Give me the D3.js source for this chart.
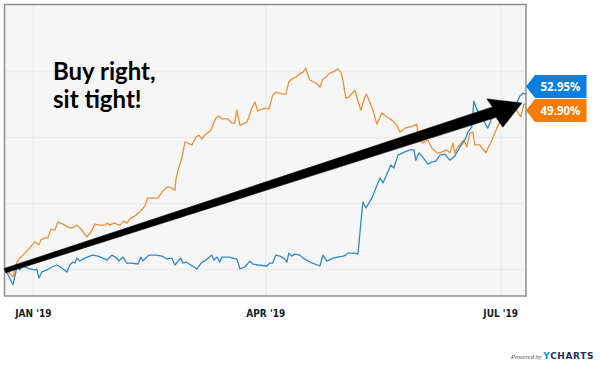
<!DOCTYPE html>
<html><head><meta charset="utf-8">
<script src="https://cdn.jsdelivr.net/npm/d3@7/dist/d3.min.js"></script>
<style>html,body{margin:0;padding:0;background:#fff;}svg{display:block;}</style>
</head><body>
<svg id="chart" width="600" height="372"></svg>
<script>
// ---- data ----
const startDate = "2018-12-21";
const endDate = "2019-07-11";
const baseDate = "2019-01-01";           // day offsets below are counted from this date
const xTickDates = ["2019-01-01", "2019-04-01", "2019-07-01"];
const xTickLabels = ["JAN '19", "APR '19", "JUL '19"];
const yGridValues = [0, 20, 40, 60];     // % return gridlines (unlabelled)

const orangeDays = [-10.8,-7.7,-6.2,-5.0,-3.1,-1.2,0.8,2.3,3.1,4.6,5.8,7.0,8.5,9.7,11.6,13.6,15.1,17.0,19.0,20.9,22.5,24.0,25.9,27.9,28.7,29.8,31.4,32.5,33.7,35.2,36.4,37.6,39.5,41.4,43.4,44.5,46.5,48.4,50.0,51.9,53.1,55.0,55.4,56.2,57.7,58.9,61.6,63.1,64.3,65.5,66.6,68.9,70.9,72.0,73.2,75.5,77.1,78.2,79.0,80.2,82.9,84.8,86.0,87.1,89.9,91.4,92.9,94.1,96.8,98.0,99.1,100.3,101.9,103.8,104.6,105.7,106.1,107.3,109.6,111.2,112.3,113.1,115.0,116.2,118.1,119.3,120.1,121.2,122.4,124.7,127.0,129.0,129.7,131.7,133.2,135.2,137.1,139.0,141.0,142.1,144.1,147.2,148.7,149.5,151.0,153.0,154.5,156.5,157.6,160.3,161.5,162.7,163.4,164.6,166.9,168.1,169.2,170.4,171.2,173.1,175.4,177.8,179.7,182.0,183.6,185.9,187.8,189.0,190.2,191.0];
const orangeValues = [0,-2.4,2.1,3.3,4.8,6.4,8.2,7.3,8.8,9.4,9.4,12.1,11.8,14.2,13.6,12.7,12.4,13.3,11.8,9.7,11.2,13.6,13.3,13.3,13.9,13.3,13.9,13.6,13.3,14.5,13.9,15.2,16.1,17.3,19.1,21.5,21.5,21.5,23.3,24.8,24.8,23.9,27.0,30.0,33.6,38.5,37.6,40.0,40.6,39.4,40.6,42.1,45.8,46.4,45.5,45.5,44.2,44.2,48.2,43.6,44.5,48.8,50.6,47.9,48.8,48.5,52.7,53.6,53.0,53.0,56.7,57.6,58.2,59.4,59.7,60.9,59.7,57.3,56.4,55.2,57.6,57.9,59.4,59.7,60.6,59.7,57.3,51.8,52.1,54.2,48.2,53.0,52.1,48.2,43.9,47.3,46.1,45.2,43.6,41.5,42.7,43.3,43.9,39.1,38.2,39.1,36.7,35.2,35.2,36.1,35.2,38.2,35.2,37.0,39.1,37.0,41.2,41.5,37.6,37.6,35.2,39.1,42.7,46.4,50.9,49.7,47.6,46.1,50.0,49.90];

const blueDays = [-10.8,-7.7,-6.2,-5.0,-4.3,-3.1,-1.2,0.8,1.5,2.3,3.5,5.4,7.4,9.3,11.2,13.2,14.3,15.5,16.3,17.0,18.2,20.1,22.1,23.2,25.2,27.1,28.7,30.6,32.5,33.3,34.9,36.4,38.3,40.7,41.8,42.6,44.9,48.0,50.0,51.9,53.8,55.0,57.3,58.1,59.3,61.2,63.5,65.5,66.6,69.3,70.1,71.3,72.4,73.2,75.9,79.0,80.2,82.1,84.0,85.2,87.1,90.6,91.8,92.9,94.1,95.7,97.2,98.4,99.1,100.3,101.5,103.4,104.6,107.3,111.2,112.3,113.9,116.2,118.1,120.1,121.2,122.0,124.7,125.9,127.8,129.0,131.3,133.2,134.4,135.6,137.5,138.6,139.8,141.4,144.1,146.0,147.6,148.3,149.5,151.0,153.0,154.5,156.1,157.6,159.6,161.5,163.4,165.4,167.3,168.5,170.0,170.8,172.0,173.5,175.1,176.2,177.8,179.7,182.0,184.0,185.9,187.5,188.6,189.8,191.0];
const blueValues = [0,-4.8,0.6,-0.3,0.9,0.6,0,-0.3,0,-2.7,-0.9,-0.3,0.6,1.2,0.3,-0.9,1.2,2.1,1.8,3.3,2.4,3.3,3.9,4.2,3.9,3.3,2.7,4.2,3.3,2.4,3.6,1.8,1.8,1.5,3.6,2.4,4.2,4.2,3.9,3.0,3.3,1.2,3.3,1.8,2.1,1.2,0,2.1,2.4,4.2,2.7,3.6,2.1,3.6,3.6,3.0,0,0.6,2.4,1.5,1.2,0.9,1.8,1.8,4.2,3.9,3.3,2.1,4.8,3.9,4.5,4.2,3.3,2.1,0.9,4.2,2.4,3.3,3.6,3.9,4.2,4.8,4.8,4.5,20.3,18.5,21.5,25.2,27.6,26.1,29.4,31.5,30.6,34.5,35.5,36.1,36.1,33.0,35.2,33.9,31.8,32.4,32.7,34.5,34.8,33.0,34.2,37.0,39.1,41.5,43.0,50.9,48.2,46.7,44.2,42.7,45.8,47.6,48.8,49.4,50.0,50.6,52.4,53.3,52.95];

const seriesNames = ["blue", "orange"];
const endLabels = ["52.95%", "49.90%"];
const annotationLines = ["Buy right,", "sit tight!"];
const arrowFrom = [-10.8, -0.5];   // [day offset, %]
const arrowTo = [189.4, 50.3];      // [day offset, %]

// ---- styles ----
const C = {
  orangeLine: "#E9913B", blueLine: "#2F89CB",
  orangeLabel: "#F67C06", blueLabel: "#0A7FE2",
  plotBg: "#F6F6F6", grid: "#ECECEC", border: "#8E8E8E"
};
const W = 600, H = 372;
const plot = {left: 4.5, top: 4.5, right: 526, bottom: 296};

const parse = d3.timeParse("%Y-%m-%d");
const base = parse(baseDate);
const dayToDate = d => new Date(base.getTime() + d * 864e5);

const x = d3.scaleTime().domain([parse(startDate), parse(endDate)]).range([plot.left, plot.right]);
const y = d3.scaleLinear().domain([-8.2, 80.2]).range([plot.bottom, plot.top]);

const svg = d3.select("#chart");
svg.append("rect").attr("width", W).attr("height", H).attr("fill", "#fff");

// plot background
svg.append("rect")
  .attr("x", plot.left).attr("y", plot.top)
  .attr("width", plot.right - plot.left).attr("height", plot.bottom - plot.top)
  .attr("fill", C.plotBg);

// gridlines
const gx = svg.append("g").attr("transform", `translate(0,${plot.bottom})`)
  .call(d3.axisBottom(x).tickValues(xTickDates.map(parse)).tickSize(-(plot.bottom - plot.top)).tickFormat(""));
gx.select(".domain").remove();
gx.selectAll("line").attr("stroke", C.grid).attr("stroke-width", 1.5);

const gy = svg.append("g").attr("transform", `translate(${plot.left},0)`)
  .call(d3.axisLeft(y).tickValues(yGridValues).tickSize(-(plot.right - plot.left)).tickFormat(""));
gy.select(".domain").remove();
gy.selectAll("line").attr("stroke", C.grid).attr("stroke-width", 1.5);

// lines
const line = d3.line().x(d => x(dayToDate(d[0]))).y(d => y(d[1]));
const orangeData = orangeDays.map((d, i) => [d, orangeValues[i]]);
const blueData = blueDays.map((d, i) => [d, blueValues[i]]);
const clip = svg.append("clipPath").attr("id", "clip").append("rect")
  .attr("x", plot.left).attr("y", plot.top).attr("width", plot.right - plot.left + 2).attr("height", plot.bottom - plot.top);
const lg = svg.append("g").attr("clip-path", "url(#clip)");
lg.append("path").datum(orangeData).attr("d", line).attr("fill", "none")
  .attr("stroke", C.orangeLine).attr("stroke-width", 1.3).attr("stroke-linejoin", "round");
lg.append("path").datum(blueData).attr("d", line).attr("fill", "none")
  .attr("stroke", C.blueLine).attr("stroke-width", 1.3).attr("stroke-linejoin", "round");

// border
svg.append("rect")
  .attr("x", plot.left).attr("y", plot.top)
  .attr("width", plot.right - plot.left).attr("height", plot.bottom - plot.top)
  .attr("fill", "none").attr("stroke", C.border).attr("stroke-width", 1.5);

// x tick labels
const gl = svg.append("g").attr("transform", `translate(0,${plot.bottom})`)
  .call(d3.axisBottom(x).tickValues(xTickDates.map(parse)).tickSize(0).tickPadding(14)
    .tickFormat((d, i) => xTickLabels[i]));
gl.select(".domain").remove();
gl.selectAll("text")
  .attr("font-family", "'DejaVu Sans Condensed', 'DejaVu Sans', sans-serif")
  .attr("font-stretch", "condensed")
  .attr("font-weight", "bold").attr("font-size", 10).attr("fill", "#1a1a1a");

// arrow annotation
(function () {
  const sx = x(dayToDate(arrowFrom[0])), sy = y(arrowFrom[1]);
  const tx = x(dayToDate(arrowTo[0])), ty = y(arrowTo[1]);
  const dx = tx - sx, dy = ty - sy, L = Math.hypot(dx, dy);
  const ux = dx / L, uy = dy / L, nx = -uy, ny = ux;
  const P = (a, b) => [tx + ux * a + nx * b, ty + uy * a + ny * b];
  const headBack = -29;
  const pts = [
    [sx - nx * 2.3, sy - ny * 2.3],
    P(headBack, -5.4),
    P(-32, -14.8),
    [tx, ty],
    P(-25.5, 17),
    P(headBack, 5.6),
    [sx + nx * 2.3, sy + ny * 2.3]
  ];
  svg.append("path").attr("d", "M" + pts.map(p => p.join(",")).join("L") + "Z")
    .attr("fill", "#000").attr("stroke", "#000").attr("stroke-width", 0.6).attr("stroke-linejoin", "round");
})();

// text annotation
const ann = svg.append("text")
  .attr("font-family", "Lato, 'Open Sans', sans-serif").attr("font-weight", "bold")
  .attr("font-size", 24).attr("fill", "#000");
annotationLines.forEach((t, i) => {
  ann.append("tspan").attr("x", 53).attr("y", 80 + i * 28).text(t);
});

// end labels
(function () {
  const vals = [blueValues[blueValues.length - 1], orangeValues[orangeValues.length - 1]];
  const cols = [C.blueLabel, C.orangeLabel];
  const ys = vals.map(v => y(v));
  const mid = (ys[0] + ys[1]) / 2 - 0.8;
  const pos = [mid - 12, mid + 12];
  pos.forEach((cy, i) => {
    const x0 = plot.right, h = 23, bx = x0 + 9, bw = 60.5;
    const g = svg.append("g");
    g.append("path")
      .attr("d", `M${x0},${cy}L${bx},${cy - h / 2}L${x0 + bw},${cy - h / 2}L${x0 + bw},${cy + h / 2}L${bx},${cy + h / 2}Z`)
      .attr("fill", cols[i]);
    g.append("text").attr("x", bx + 25.5).attr("y", cy).attr("dy", "0.36em")
      .attr("text-anchor", "middle").attr("fill", "#fff")
      .attr("font-family", "'Open Sans', 'DejaVu Sans', sans-serif").attr("font-weight", "bold")
      .attr("font-size", 11.5).text(endLabels[i]);
  });
})();

// powered by
const pb = svg.append("text").attr("x", 594).attr("y", 359).attr("text-anchor", "end");
pb.append("tspan").attr("font-family", "'Liberation Serif', serif").attr("font-style", "italic")
  .attr("font-size", 6.5).attr("fill", "#555").text("Powered by ");
pb.append("tspan").attr("font-family", "'DejaVu Sans', sans-serif").attr("font-weight", "bold")
  .attr("font-size", 9).attr("letter-spacing", 0.6).attr("fill", "#1b8ee6").text("Y");
pb.append("tspan").attr("font-family", "'DejaVu Sans', sans-serif").attr("font-weight", "bold")
  .attr("font-size", 9).attr("letter-spacing", 0.6).attr("fill", "#23324f").text("CHARTS");
</script>
</body></html>
